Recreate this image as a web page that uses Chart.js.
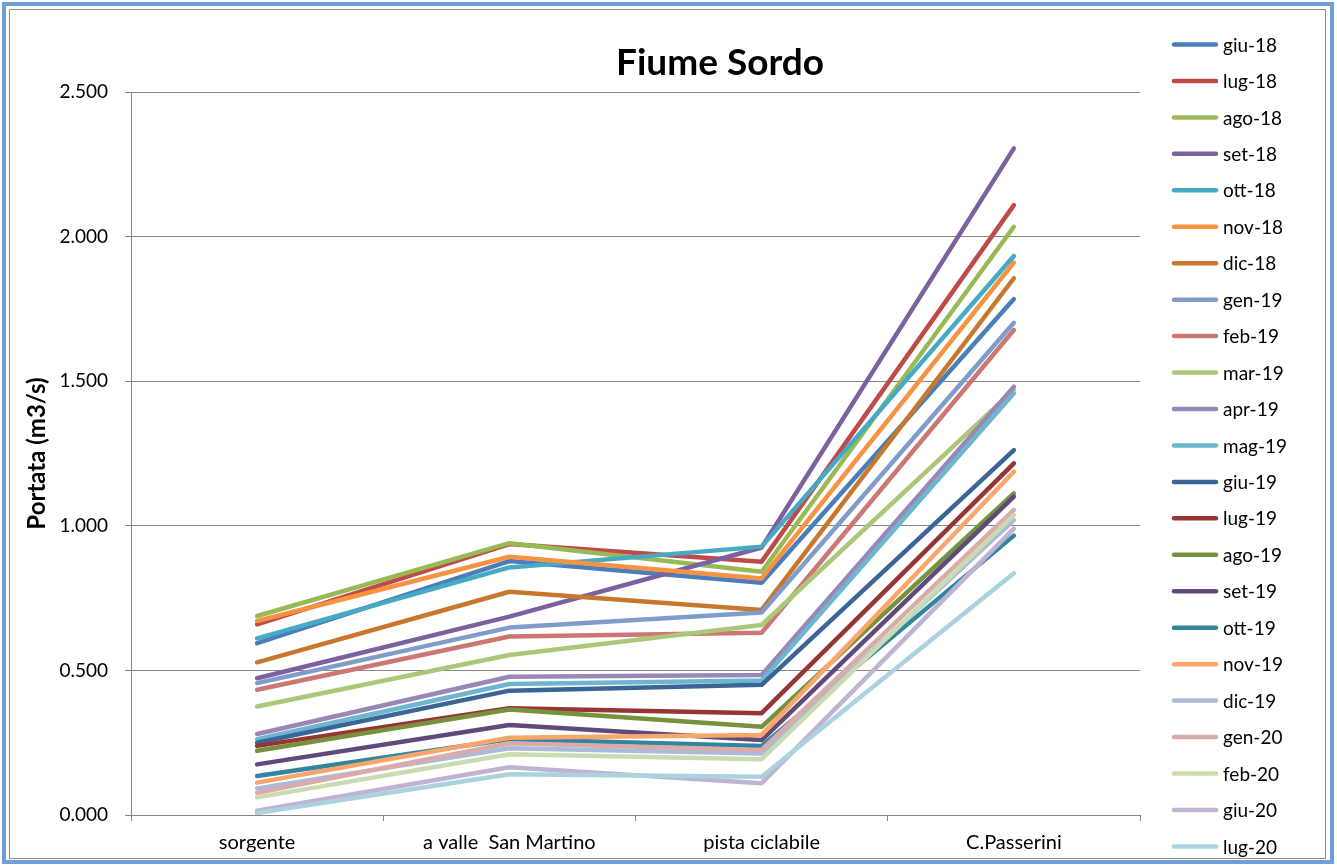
<!DOCTYPE html>
<html>
<head>
<meta charset="utf-8">
<title>Fiume Sordo</title>
<script src="https://cdn.jsdelivr.net/npm/chart.js@4/dist/chart.umd.min.js"></script>
<style>
  html, body { margin: 0; padding: 0; background: #fff; }
  #wrap { position: relative; width: 1337px; height: 866px; }
</style>
</head>
<body>
<div id="wrap"><canvas id="chart"></canvas></div>
<script>
// stations along the river (x axis)
const categories = ['sorgente', 'a valle  San Martino', 'pista ciclabile', 'C.Passerini'];

// one series per monthly survey
const months = ['giu-18', 'lug-18', 'ago-18', 'set-18', 'ott-18', 'nov-18', 'dic-18',
  'gen-19', 'feb-19', 'mar-19', 'apr-19', 'mag-19', 'giu-19', 'lug-19', 'ago-19',
  'set-19', 'ott-19', 'nov-19', 'dic-19', 'gen-20', 'feb-20', 'giu-20', 'lug-20'];

// portata (m3/s) per station, same order as months
const sorgente  = [0.594, 0.659, 0.688, 0.473, 0.611, 0.671, 0.528, 0.456, 0.433, 0.375, 0.280, 0.262,
                   0.250, 0.239, 0.222, 0.175, 0.135, 0.112, 0.092, 0.077, 0.061, 0.015, 0.007];
const aValle    = [0.878, 0.937, 0.940, 0.686, 0.856, 0.893, 0.772, 0.648, 0.617, 0.553, 0.478, 0.453,
                   0.430, 0.369, 0.365, 0.311, 0.262, 0.267, 0.231, 0.248, 0.210, 0.165, 0.141];
const pista     = [0.803, 0.876, 0.841, 0.925, 0.928, 0.818, 0.709, 0.700, 0.630, 0.657, 0.484, 0.465,
                   0.450, 0.352, 0.305, 0.259, 0.239, 0.277, 0.213, 0.225, 0.193, 0.110, 0.132];
const passerini = [1.784, 2.109, 2.034, 2.305, 1.933, 1.910, 1.856, 1.702, 1.677, 1.470, 1.481, 1.458,
                   1.262, 1.216, 1.112, 1.101, 0.966, 1.187, 1.020, 1.055, 1.037, 0.990, 0.836];

const yTicks = [0, 0.5, 1, 1.5, 2, 2.5];

const colors = ['#4a7ebb', '#be4b48', '#98b954', '#7d60a0', '#46aac5', '#f69240', '#c8782e',
  '#7f9ccb', '#cc7774', '#abc77a', '#9988b7', '#6cb7cf', '#3b6597', '#963634', '#76923c',
  '#604a7b', '#31859c', '#faa56a', '#aabbda', '#d9abaa', '#c9dbb0', '#beb3d2', '#abd3df'];

const chartTitle = 'Fiume Sordo';
const axisGray = '#868686';

const datasets = months.map((m, i) => ({
  label: m,
  data: [sorgente[i], aValle[i], pista[i], passerini[i]],
  borderColor: colors[i],
  backgroundColor: colors[i],
  borderWidth: 4.5,
  borderCapStyle: 'round',
  borderJoinStyle: 'round',
  pointRadius: 0,
  tension: 0,
  order: -i // later series on top, like the original
}));

// title, legend and frame drawn by hand so they sit where the original has them
const decorations = {
  id: 'decorations',
  afterDraw(chart) {
    const ctx = chart.ctx;
    ctx.save();
    ctx.fillStyle = '#000';
    ctx.textAlign = 'center';
    ctx.textBaseline = 'middle';
    ctx.font = 'bold 37px Lato';
    ctx.fillText(chartTitle, 720, 63);

    ctx.textAlign = 'left';
    ctx.font = '19px Lato';
    chart.data.datasets.forEach((ds, i) => {
      const y = 44.5 + i * 36.45;
      ctx.strokeStyle = ds.borderColor;
      ctx.lineWidth = 4.5;
      ctx.lineCap = 'round';
      ctx.beginPath();
      ctx.moveTo(1174, y);
      ctx.lineTo(1216, y);
      ctx.stroke();
      ctx.fillStyle = '#000';
      ctx.fillText(ds.label, 1223, y + 1);
    });

    ctx.strokeStyle = '#6f9fd8';
    ctx.lineWidth = 4;
    ctx.strokeRect(4, 4, 1328, 858);
    ctx.strokeStyle = '#8c8c8c';
    ctx.lineWidth = 1;
    ctx.strokeRect(9.5, 9.5, 1316, 849);
    ctx.restore();
  }
};

new Chart(document.getElementById('chart'), {
  type: 'line',
  data: { labels: categories, datasets: datasets },
  plugins: [decorations],
  options: {
    responsive: true,
    maintainAspectRatio: false,
    animation: false,
    devicePixelRatio: 1,
    layout: { padding: { left: 10, right: 197, top: 92, bottom: 0 } },
    plugins: {
      legend: { display: false },
      title: { display: false },
      tooltip: { enabled: false }
    },
    scales: {
      x: {
        offset: true,
        afterFit: (scale) => { scale.height = 51; },
        grid: { display: true, offset: true, drawOnChartArea: false, drawTicks: true, tickLength: 6, color: axisGray },
        border: { display: true, color: axisGray, width: 1 },
        ticks: { color: '#000', font: { family: 'Lato', size: 20 }, padding: 10, maxRotation: 0 }
      },
      y: {
        min: 0,
        max: 2.5,
        afterFit: (scale) => { scale.width = 121; },
        afterBuildTicks: (scale) => { scale.ticks = yTicks.map(v => ({ value: v })); },
        grid: { color: axisGray, lineWidth: 1, drawTicks: true, tickLength: 6 },
        border: { display: true, color: axisGray, width: 1 },
        ticks: {
          color: '#000',
          font: { family: 'Lato', size: 19 },
          padding: 17,
          callback: (v) => v.toFixed(3)
        },
        title: {
          display: true,
          text: 'Portata (m3/s)',
          color: '#000',
          font: { family: 'Lato', size: 24, weight: 'bold' },
          padding: { top: 13, bottom: 0 }
        }
      }
    }
  }
});
</script>
</body>
</html>
